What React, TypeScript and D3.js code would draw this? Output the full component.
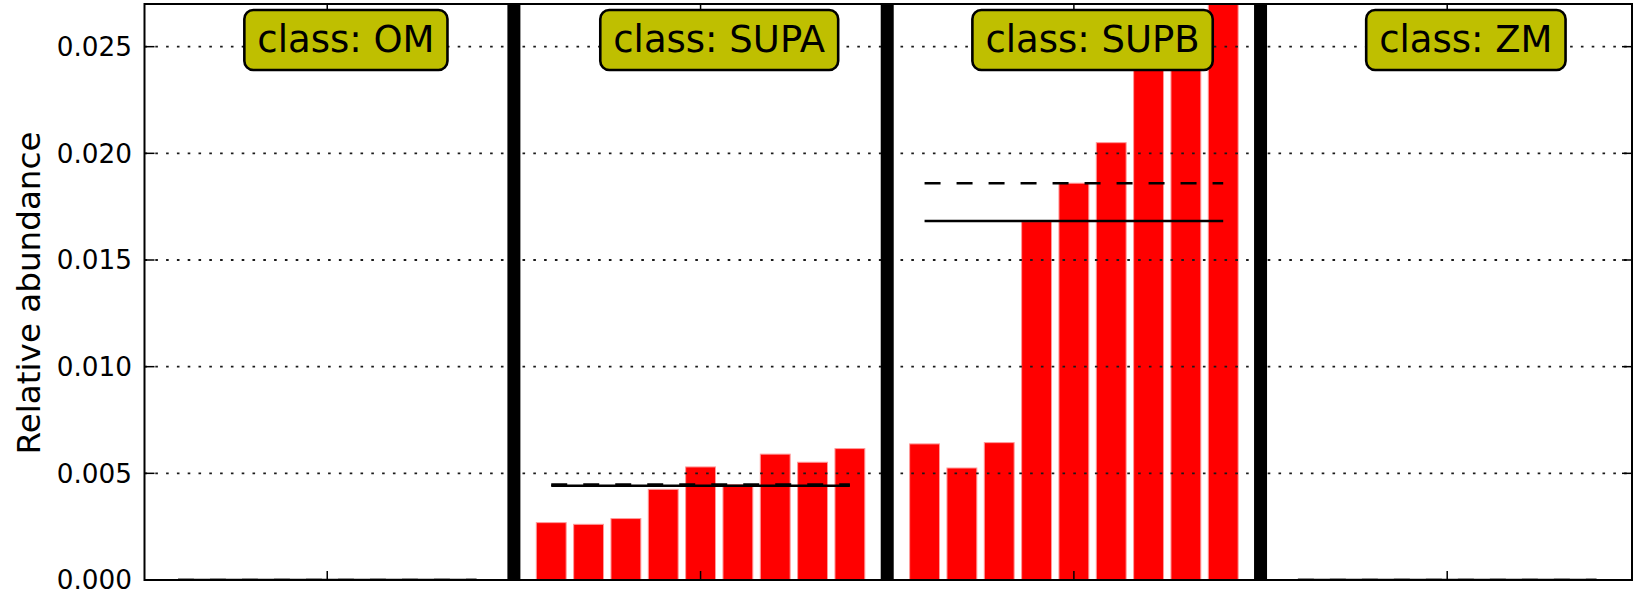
import React, { useEffect, useRef } from "react";
import * as d3 from "d3";

const categories = ["OM", "SUPA", "SUPB", "ZM"];
const omValues = [0, 0, 0, 0, 0, 0, 0, 0, 0];
const supaValues = [0.00269, 0.00261, 0.00288, 0.00425, 0.0053, 0.00447, 0.0059, 0.00552, 0.00616];
const supbValues = [0.00638, 0.00525, 0.00644, 0.0168, 0.0186, 0.0205, 0.0243, 0.0247, 0.0285];
const zmValues = [0, 0, 0, 0, 0, 0, 0, 0, 0];
const yTicks = [0, 0.005, 0.01, 0.015, 0.02, 0.025];
const yLabel = "Relative abundance";

const W = 1633;
const H = 593;
const FONT = "'DejaVu Sans', sans-serif";

export default function App() {
  const ref = useRef<SVGSVGElement | null>(null);

  useEffect(() => {
    const svg = d3.select(ref.current);
    svg.selectAll("*").remove();

    const left = 144.5, right = 1632, top = 4, bottom = 580;
    const x = d3.scaleLinear().domain([-0.895, 38.95]).range([left, right]);
    const y = d3.scaleLinear().domain([0, 0.027]).range([bottom, top]);

    const groups = [omValues, supaValues, supbValues, zmValues];
    const groupStart = (g: number) => g * 10;

    svg.append("defs").append("clipPath").attr("id", "plotclip")
      .append("rect").attr("x", left).attr("y", top).attr("width", right - left).attr("height", bottom - top);

    const plot = svg.append("g").attr("clip-path", "url(#plotclip)");

    // bars
    groups.forEach((vals, g) => {
      plot.append("g").selectAll("rect").data(vals).enter().append("rect")
        .attr("x", (_d, i) => x(groupStart(g) + i - 0.4))
        .attr("width", x(0.8) - x(0))
        .attr("y", (d) => y(d))
        .attr("height", (d) => y(0) - y(d))
        .attr("fill", "#ff0000")
        .attr("stroke", "#ff9a9a")
        .attr("stroke-width", 1);
    });

    // grid
    plot.append("g").selectAll("line").data(yTicks.filter((t) => t > 0)).enter().append("line")
      .attr("x1", left).attr("x2", right)
      .attr("y1", (d) => y(d)).attr("y2", (d) => y(d))
      .attr("stroke", "#1a1a1a").attr("stroke-width", 1.8)
      .attr("stroke-dasharray", "2.6 8.2");

    // mean (solid) and median (dashed)
    groups.forEach((vals, g) => {
      const m = d3.mean(vals) as number;
      const md = d3.median(vals) as number;
      const x1 = x(groupStart(g));
      const x2 = x(groupStart(g) + vals.length - 1);
      plot.append("line").attr("x1", x1).attr("x2", x2).attr("y1", y(md)).attr("y2", y(md))
        .attr("stroke", "#000").attr("stroke-width", 2.6).attr("stroke-dasharray", "16 16");
      plot.append("line").attr("x1", x1).attr("x2", x2).attr("y1", y(m)).attr("y2", y(m))
        .attr("stroke", "#000").attr("stroke-width", 2.5);
    });

    // separators
    plot.append("g").selectAll("line").data([9, 19, 29]).enter().append("line")
      .attr("x1", (d) => x(d)).attr("x2", (d) => x(d))
      .attr("y1", top).attr("y2", bottom)
      .attr("stroke", "#000").attr("stroke-width", 13);

    // frame
    svg.append("rect").attr("x", left).attr("y", top).attr("width", right - left).attr("height", bottom - top)
      .attr("fill", "none").attr("stroke", "#000").attr("stroke-width", 2);

    // y ticks
    const yt = svg.append("g");
    yTicks.forEach((t) => {
      yt.append("line").attr("x1", left).attr("x2", left + 10).attr("y1", y(t)).attr("y2", y(t))
        .attr("stroke", "#000").attr("stroke-width", 1.5);
      yt.append("line").attr("x1", right).attr("x2", right - 10).attr("y1", y(t)).attr("y2", y(t))
        .attr("stroke", "#000").attr("stroke-width", 1.5);
      yt.append("text").attr("x", left - 12.5).attr("y", y(t)).attr("dy", "0.36em")
        .attr("text-anchor", "end").attr("font-family", FONT).attr("font-size", 26.3)
        .attr("fill", "#000").text(d3.format(".3f")(t));
    });

    // x ticks
    categories.forEach((_c, g) => {
      const cx = x(groupStart(g) + 4);
      svg.append("line").attr("x1", cx).attr("x2", cx).attr("y1", bottom).attr("y2", bottom - 9)
        .attr("stroke", "#000").attr("stroke-width", 1.5);
      svg.append("line").attr("x1", cx).attr("x2", cx).attr("y1", top).attr("y2", top + 9)
        .attr("stroke", "#000").attr("stroke-width", 1.5);
    });

    // y label
    svg.append("text")
      .attr("transform", `translate(40, ${(top + bottom) / 2 + 1}) rotate(-90)`)
      .attr("text-anchor", "middle").attr("font-family", FONT).attr("font-size", 32.6)
      .attr("fill", "#000").text(yLabel);

    // class label boxes
    categories.forEach((c, g) => {
      const cx = x(groupStart(g) + 4.5);
      const lg = svg.append("g");
      const box = lg.append("rect");
      const txt = lg.append("text").attr("x", cx).attr("y", 51.5)
        .attr("text-anchor", "middle").attr("font-family", FONT).attr("font-size", 37)
        .attr("fill", "#000").text(`class: ${c}`);
      const tw = (txt.node() as SVGTextElement).getComputedTextLength();
      box.attr("x", cx - tw / 2 - 13).attr("y", 10).attr("width", tw + 26).attr("height", 60)
        .attr("rx", 9).attr("ry", 9)
        .attr("fill", "#bfbf00").attr("stroke", "#000").attr("stroke-width", 2.6);
    });
  }, []);

  return (
    <svg
      ref={ref}
      width={W}
      height={H}
      style={{ position: "absolute", left: 0, top: 0, background: "#fff" }}
    />
  );
}
